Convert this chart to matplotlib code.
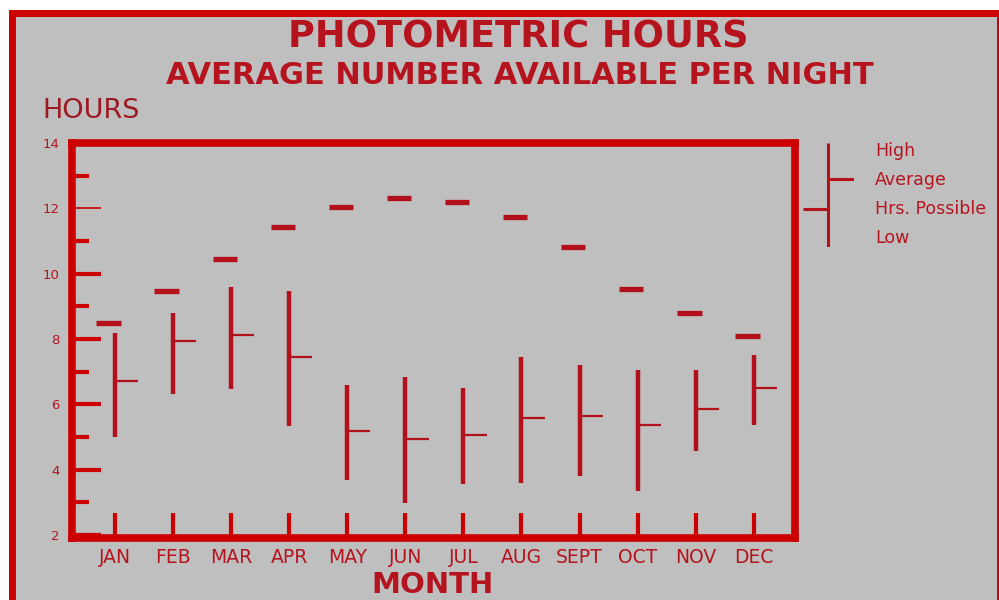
import numpy as np
import matplotlib.pyplot as plt
from matplotlib.patches import Rectangle

# photometric hours per night
months = ["JAN", "FEB", "MAR", "APR", "MAY", "JUN",
          "JUL", "AUG", "SEPT", "OCT", "NOV", "DEC"]
hrs_possible = [8.50, 9.47, 10.45, 11.44, 12.03, 12.33, 12.18, 11.73, 10.81, 9.52, 8.81, 8.10]
high = [8.18, 8.79, 9.58, 9.47, 6.59, 6.83, 6.51, 7.44, 7.22, 7.04, 7.04, 7.50]
low = [4.99, 6.31, 6.46, 5.34, 3.69, 2.98, 3.55, 3.59, 3.82, 3.35, 4.56, 5.37]
average = [6.71, 7.93, 8.11, 7.44, 5.19, 4.94, 5.06, 5.58, 5.64, 5.36, 5.85, 6.49]
yticks = [2, 4, 6, 8, 10, 12, 14]

plt.rcParams['font.family'] = ['DejaVu Sans']

frame_red = '#cc0000'
mark_red = '#b3101c'
text_red = '#b5141e'
gray = '#bfbfbf'

fig = plt.figure(figsize=(9.99, 6), dpi=100, facecolor='white')

# outer red border around the whole page
border = Rectangle((12 / 999, -0.05), 0.989, 1.05 - 13 / 600, transform=fig.transFigure,
                   facecolor=gray, edgecolor=frame_red, linewidth=5, zorder=-10)
fig.add_artist(border)

ax = fig.add_axes([72 / 999, 1 - 538 / 600, (795 - 72) / 999, (538 - 143) / 600])
ax.set_facecolor('none')

x = np.arange(len(months))

# possible hours (short thick bars, a bit left of the month)
ax.hlines(hrs_possible, x - 0.32, x + 0.1, color=mark_red, linewidth=3.8)
# high-low range
ax.vlines(x, low, high, color=mark_red, linewidth=3.2)
# average tick to the right
ax.hlines(average, x, x + 0.4, color=mark_red, linewidth=1.6)

ax.set_xlim(-0.74, 11.71)
ax.set_ylim(1.91, 13.94)

for s in ax.spines.values():
    s.set_linewidth(5.5)
    s.set_color(frame_red)

ax.set_xticks(x)
ax.set_xticklabels(months, fontsize=13.5, color=text_red)
ax.set_yticks(yticks)
ax.set_yticklabels([str(v) for v in yticks], fontsize=9.5, color=text_red)
ax.set_yticks([3, 5, 7, 9, 11, 13], minor=True)

ax.tick_params(axis='x', direction='in', length=18, width=3, color=frame_red, pad=7)
ax.tick_params(axis='y', which='major', direction='in', length=21, width=3,
               color=frame_red, pad=9)
ax.tick_params(axis='y', which='minor', direction='in', length=12, width=3,
               color=frame_red)
# the 12 tick is a thin line on the original
ax.yaxis.get_major_ticks()[5].tick1line.set_markeredgewidth(1.2)
ax.yaxis.get_major_ticks()[5].tick1line.set_color('#7a1010')

# legend key
lax = fig.add_axes([803 / 999, 1 - 247 / 600, 51 / 999, 104 / 600])
lax.set_xlim(0, 1)
lax.set_ylim(0, 1)
lax.axis('off')
lax.vlines(0.49, 0, 1, color=mark_red, linewidth=2.2)
lax.hlines(0.654, 0.49, 1, color=mark_red, linewidth=2.2)
lax.hlines(0.365, 0, 0.49, color=mark_red, linewidth=2.2)

key_labels = ["High", "Average", "Hrs. Possible", "Low"]
key_y = [151, 180, 209, 238]
for lab, yy in zip(key_labels, key_y):
    fig.text(875 / 999, 1 - yy / 600, lab, fontsize=12.5, color=text_red,
             ha='left', va='center')

fig.text(0.519, 1 - 37 / 600, "PHOTOMETRIC HOURS", fontsize=26.5, fontweight='bold',
         color=text_red, ha='center', va='center')
fig.text(0.520, 1 - 76 / 600, "AVERAGE NUMBER AVAILABLE PER NIGHT", fontsize=22,
         fontweight='bold', color=text_red, ha='center', va='center')
fig.text(42 / 999, 1 - 111 / 600, "HOURS", fontsize=19.5, color='#9e1a22',
         ha='left', va='center')
fig.text(433 / 999, 1 - 585 / 600, "MONTH", fontsize=21, fontweight='bold',
         color=text_red, ha='center', va='center')

fig.savefig('out.png', dpi=100)
